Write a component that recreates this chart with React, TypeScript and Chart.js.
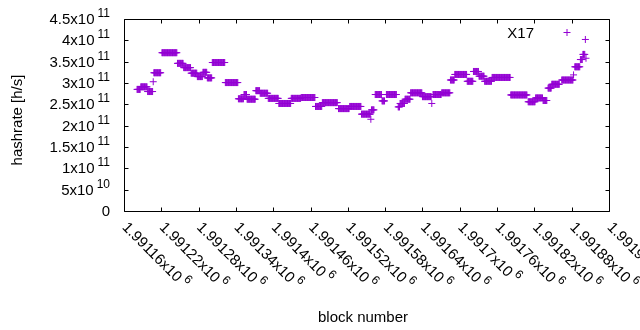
import React, { useEffect, useRef } from 'react';
import { Chart, registerables } from 'chart.js';

Chart.register(...registerables);

// ---- data ----
const seriesLabel = 'X17';
const xTitle = 'block number';
const yTitle = 'hashrate [h/s]';

// runs of consecutive blocks that share the same hashrate estimate
const runStart = [
  1991181, 1991187, 1991198, 1991207, 1991208, 1991221, 1991246, 1991256, 1991268, 1991278,
  1991287, 1991294, 1991302, 1991323, 1991344, 1991353, 1991358, 1991372, 1991379, 1991392,
  1991409, 1991429, 1991445, 1991468, 1991479, 1991505, 1991523, 1991542, 1991557, 1991558,
  1991564, 1991575, 1991582, 1991601, 1991604, 1991612, 1991621, 1991640, 1991655, 1991657,
  1991671, 1991685, 1991692, 1991712, 1991722, 1991731, 1991740, 1991752, 1991782, 1991810,
  1991822, 1991834, 1991842, 1991848, 1991864, 1991883, 1991885, 1991894, 1991898, 1991902,
  1991903,
];
const runEnd = [
  1991186, 1991197, 1991206, 1991207, 1991219, 1991245, 1991255, 1991267, 1991277, 1991286,
  1991293, 1991301, 1991322, 1991343, 1991352, 1991357, 1991371, 1991378, 1991391, 1991408,
  1991428, 1991444, 1991467, 1991478, 1991503, 1991522, 1991541, 1991556, 1991557, 1991562,
  1991574, 1991579, 1991598, 1991603, 1991611, 1991620, 1991639, 1991654, 1991655, 1991670,
  1991684, 1991691, 1991711, 1991721, 1991730, 1991739, 1991751, 1991781, 1991808, 1991821,
  1991833, 1991840, 1991847, 1991860, 1991882, 1991883, 1991893, 1991897, 1991901, 1991902,
  1991903,
];
// hashrate in units of 1e11 h/s
const runValue = [
  2.85, 2.91, 2.80, 3.03, 3.24, 3.71, 3.46, 3.36, 3.23, 3.15,
  3.25, 3.12, 3.48, 3.01, 2.63, 2.73, 2.62, 2.82, 2.76, 2.64,
  2.52, 2.64, 2.66, 2.45, 2.54, 2.40, 2.45, 2.27, 2.15, 2.37,
  2.73, 2.58, 2.73, 2.44, 2.52, 2.62, 2.77, 2.68, 2.52, 2.73,
  2.77, 3.07, 3.20, 3.04, 3.27, 3.16, 3.04, 3.13, 2.72, 2.56,
  2.65, 2.59, 2.88, 2.97, 3.07, 3.19, 3.38, 3.55, 3.67, 4.02,
  3.58,
];

const xTickValues = [
  1991160, 1991220, 1991280, 1991340, 1991400, 1991460, 1991520,
  1991580, 1991640, 1991700, 1991760, 1991820, 1991880, 1991940,
];
const yTickValues = [0, 0.5e11, 1e11, 1.5e11, 2e11, 2.5e11, 3e11, 3.5e11, 4e11, 4.5e11];

const COLOR = 'rgb(148,0,211)';
const FONT = '"Liberation Sans", Arial, sans-serif';

function buildPoints() {
  const pts: { x: number; y: number }[] = [];
  for (let i = 0; i < runStart.length; i++) {
    for (let b = runStart[i]; b <= runEnd[i]; b++) {
      pts.push({ x: b, y: runValue[i] * 1e11 });
    }
  }
  return pts;
}

function sciParts(v: number): [string, string] {
  if (v === 0) return ['0', ''];
  const e = Math.floor(Math.log10(v) + 1e-9);
  const m = v / Math.pow(10, e);
  return [parseFloat(m.toPrecision(6)).toString() + 'x10', String(e)];
}

const decor = {
  id: 'gnuplotDecor',
  afterDraw(chart: any) {
    const ctx: CanvasRenderingContext2D = chart.ctx;
    const { left, right, top, bottom } = chart.chartArea;
    const xs = chart.scales.x;
    const ys = chart.scales.y;
    const L = Math.round(left), R = Math.round(right), T = Math.round(top), B = Math.round(bottom);
    ctx.save();
    ctx.strokeStyle = '#000';
    ctx.lineWidth = 1;
    ctx.beginPath();
    ctx.rect(L + 0.5, T + 0.5, R - L, B - T);
    // ticks (inward, mirrored)
    const tl = 4;
    for (const v of xTickValues) {
      const px = Math.round(xs.getPixelForValue(v)) + 0.5;
      ctx.moveTo(px, B + 0.5);
      ctx.lineTo(px, B + 0.5 - tl);
      ctx.moveTo(px, T + 0.5);
      ctx.lineTo(px, T + 0.5 + tl);
    }
    for (const v of yTickValues) {
      const py = Math.round(ys.getPixelForValue(v)) + 0.5;
      ctx.moveTo(L + 0.5, py);
      ctx.lineTo(L + 0.5 + tl, py);
      ctx.moveTo(R + 0.5, py);
      ctx.lineTo(R + 0.5 - tl, py);
    }
    ctx.stroke();

    ctx.fillStyle = '#000';
    const mainFont = '15px ' + FONT;
    const supFont = '12px ' + FONT;
    const gap = 3;

    // y tick labels
    for (const v of yTickValues) {
      const py = ys.getPixelForValue(v);
      const [m, e] = sciParts(v);
      ctx.font = supFont;
      const ws = e ? ctx.measureText(e).width : 0;
      ctx.font = mainFont;
      ctx.textAlign = 'right';
      ctx.textBaseline = 'alphabetic';
      const xr = 110;
      const xm = e ? xr - ws - gap : xr;
      ctx.fillText(m, xm, py + 5);
      if (e) {
        ctx.font = supFont;
        ctx.textAlign = 'left';
        ctx.fillText(e, xr - ws, py - 2);
      }
    }

    // x tick labels, rotated 45 deg clockwise
    for (const v of xTickValues) {
      const px = xs.getPixelForValue(v);
      const [m, e] = sciParts(v);
      ctx.save();
      ctx.translate(px - 2.5, B + 17);
      ctx.rotate(Math.PI / 4);
      ctx.font = mainFont;
      ctx.textAlign = 'left';
      ctx.textBaseline = 'alphabetic';
      ctx.fillText(m, 0, 0);
      const wm = ctx.measureText(m).width;
      if (e) {
        ctx.font = supFont;
        ctx.fillText(e, wm + gap, -7);
      }
      ctx.restore();
    }

    // axis titles
    ctx.font = mainFont;
    ctx.textAlign = 'center';
    ctx.textBaseline = 'alphabetic';
    ctx.fillText(xTitle, 363, 322);
    ctx.save();
    ctx.translate(21.5, 120);
    ctx.rotate(-Math.PI / 2);
    ctx.fillText(yTitle, 0, 0);
    ctx.restore();

    // key
    ctx.textAlign = 'right';
    ctx.fillText(chart.data.datasets[0].label, 534, 37.5);
    ctx.strokeStyle = COLOR;
    ctx.beginPath();
    ctx.moveTo(563.5, 32.5);
    ctx.lineTo(570.5, 32.5);
    ctx.moveTo(567, 29);
    ctx.lineTo(567, 36);
    ctx.stroke();
    ctx.restore();
  },
};

export default function App() {
  const ref = useRef<HTMLCanvasElement | null>(null);
  useEffect(() => {
    document.body.style.margin = '0';
    if (!ref.current) return;
    const chart = new Chart(ref.current, {
      type: 'scatter',
      data: {
        datasets: [
          {
            label: seriesLabel,
            data: buildPoints(),
            pointStyle: 'cross',
            pointRadius: 3.5,
            pointBorderWidth: 1,
            borderColor: COLOR,
            backgroundColor: COLOR,
            showLine: false,
          },
        ],
      },
      options: {
        responsive: false,
        animation: false,
        layout: { padding: { left: 124, right: 31, top: 19, bottom: 119 } },
        plugins: { legend: { display: false }, tooltip: { enabled: false } },
        scales: {
          x: { type: 'linear', display: false, min: 1991160, max: 1991940 },
          y: { type: 'linear', display: false, min: 0, max: 4.5e11 },
        },
      },
      plugins: [decor],
    });
    return () => chart.destroy();
  }, []);
  return (
    <div style={{ width: 640, height: 330 }}>
      <canvas ref={ref} width={640} height={330} style={{ display: 'block' }} />
    </div>
  );
}
